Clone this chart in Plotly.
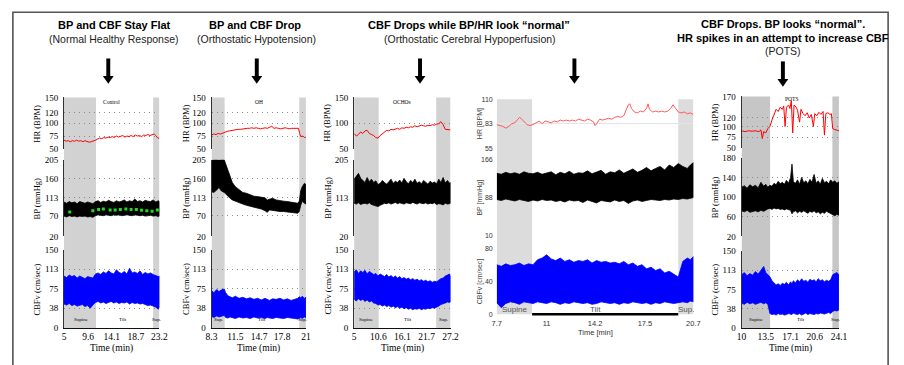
import plotly.graph_objects as go

# ---------------- DATA ----------------
# Panel 1 : Control
p1_t = [5.0,5.5,6.0,6.5,7.0,7.5,8.0,8.5,9.0,9.5,10.0,10.5,11.0,11.5,12.0,12.5,13.0,13.5,14.0,14.5,
        15.0,15.5,16.0,16.5,17.0,17.5,18.0,18.5,19.0,19.5,20.0,20.5,21.0,21.5,22.0,22.5,23.0,23.2]
p1_bp_hi = [103,100,104,101,103,99,104,102,100,103,101,99,104,106,102,105,103,107,104,102,
            106,103,105,108,103,106,104,110,104,106,103,107,105,104,108,103,106,104]
p1_bp_lo = [69,67,70,68,69,67,69,68,69,67,68,66,70,72,71,70,72,71,70,72,
            71,72,70,71,72,71,70,72,71,70,71,69,70,71,69,70,68,69]
p1_cbf_hi = [100,97,102,99,101,96,100,98,95,99,97,96,104,106,103,108,105,110,106,104,
             112,107,105,109,104,115,106,108,105,110,103,107,104,106,103,101,99,100]
p1_cbf_lo = [46,44,47,43,45,42,44,45,41,43,38,44,49,51,48,50,47,49,51,48,
             50,47,49,48,50,46,49,47,48,46,47,45,43,44,42,40,36,40]
p1_hr_t = [5.0,5.4,5.8,6.2,6.6,7.0,7.4,7.8,8.2,8.6,9.0,9.4,9.8,10.2,10.6,11.0,11.4,11.8,12.2,12.6,
           13.0,13.4,13.8,14.2,14.6,15.0,15.4,15.8,16.2,16.6,17.0,17.4,17.8,18.2,18.6,19.0,19.4,19.8,
           20.2,20.6,21.0,21.4,21.8,22.2,22.5,22.8,23.2]
p1_hr = [67,65,66,64,66,65,67,65,66,64,66,65,63,64,65,67,69,71,70,72,
         71,73,72,74,72,75,73,74,76,73,75,74,76,74,77,75,76,74,77,76,78,76,77,79,76,72,70]
p1_dots_t = [6.1,10.5,11.6,12.5,13.8,14.75,15.75,16.8,17.8,18.8,19.8,20.8,21.8,22.8]
p1_dots = [79,82,85,86,84,84,85,86,85,85,83,82,81,84]

# Panel 2 : OH
p2_t = [8.3,8.6,9.0,9.3,9.6,10.0,10.2,10.5,10.8,11.1,11.5,12.0,12.5,13.0,13.5,14.0,14.5,15.0,15.5,15.8,
        16.1,16.5,17.0,17.5,18.0,18.5,19.0,19.5,19.9,20.1,20.3,20.5,20.8,21.0]
p2_bp_hi = [203,205,205,204,205,205,195,180,165,150,140,133,126,124,120,117,116,115,113,108,
            110,112,108,106,105,104,103,102,100,105,130,140,148,145]
p2_bp_lo = [128,126,132,138,130,126,124,118,112,108,104,101,98,95,92,90,88,86,82,78,
            84,83,81,80,80,79,78,77,76,80,95,105,100,98]
p2_cbf_hi = [72,68,74,70,73,75,68,62,60,58,61,57,59,56,58,55,57,54,57,55,
             53,56,55,57,54,56,53,55,57,60,58,61,57,59]
p2_cbf_lo = [22,20,23,21,22,24,20,19,21,20,18,21,19,20,18,21,19,20,18,20,
             19,18,20,19,18,20,19,18,17,19,20,18,21,19]
p2_hr_t = [8.3,8.6,8.9,9.2,9.5,9.8,10.1,10.4,10.7,11.0,11.3,11.6,11.9,12.2,12.5,12.8,13.1,13.4,13.7,14.0,
           14.3,14.6,14.9,15.2,15.5,15.8,16.1,16.4,16.7,17.0,17.3,17.6,17.9,18.2,18.5,18.8,19.1,19.4,
           19.7,20.0,20.15,20.3,20.6,20.8,21.0]
p2_hr = [77,79,78,80,79,81,82,84,85,86,86,87,88,88,89,89,90,90,91,90,
         91,90,89,90,91,90,92,94,90,91,90,89,90,91,90,89,90,90,91,90,80,74,75,72,73]

# Panel 3 : OCHOs
p3_t = [5.0,5.5,6.0,6.5,7.0,7.5,8.0,8.5,9.0,9.5,10.0,10.5,11.0,11.5,12.0,12.5,13.0,13.5,14.0,14.5,
        15.0,15.5,16.0,16.5,17.0,17.5,18.0,18.5,19.0,19.5,20.0,20.5,21.0,21.5,22.0,22.5,23.0,23.5,
        24.0,24.5,25.0,25.5,26.0,26.5,27.0,27.2]
p3_bp_hi = [158,165,172,160,155,150,162,152,158,150,154,145,148,155,150,146,152,158,148,153,
            150,156,149,160,152,147,155,150,158,148,152,147,155,150,146,153,149,151,147,158,
            150,162,149,155,148,150]
p3_bp_lo = [100,98,101,97,99,100,98,101,97,95,93,92,95,98,100,99,101,98,100,102,
            99,101,100,98,101,100,99,102,100,98,101,100,99,101,98,100,99,101,97,99,
            98,96,100,98,99,100]
p3_hr = [80,75,78,83,80,85,86,80,78,76,72,71,76,80,83,86,85,88,87,89,
         90,88,91,90,92,91,93,92,95,93,94,96,95,94,96,95,97,96,98,99,103,97,88,87,86,87]
p3_cbf_hi = [108,112,105,110,107,111,104,109,106,103,105,100,104,101,99,103,98,101,97,100,
             96,99,95,97,94,96,93,95,92,94,91,93,90,92,89,91,88,90,89,92,95,96,100,102,104,100]
p3_cbf_lo = [55,52,56,53,55,51,54,50,52,48,47,44,45,42,44,41,43,40,42,39,
             41,38,40,37,39,36,38,35,37,36,38,35,37,36,38,37,39,38,40,42,45,47,48,50,49,50]

# Panel 4
p4_t = [7.7,8.0,8.3,8.6,8.9,9.2,9.5,9.8,10.1,10.4,10.7,11.0,11.3,11.6,11.9,12.2,12.5,12.8,13.1,13.4,
        13.7,14.0,14.3,14.6,14.9,15.2,15.5,15.8,16.1,16.4,16.7,17.0,17.3,17.6,17.9,18.2,18.5,18.8,
        19.1,19.4,19.7,20.0,20.3,20.5,20.7]
p4_bp_hi = [138,136,140,137,139,136,141,138,137,140,136,139,141,135,140,137,142,136,139,138,
            143,137,140,144,136,141,139,145,138,142,147,140,144,150,143,148,152,145,155,150,
            158,152,148,155,160]
p4_bp_lo = [84,82,85,83,81,84,82,80,83,81,84,82,83,80,82,79,83,81,82,78,
            83,80,77,82,81,79,83,80,82,76,81,83,80,82,84,83,82,84,83,85,84,86,85,87,88]
p4_cbf_hi = [60,58,61,59,60,62,59,61,60,66,68,72,67,65,68,64,66,63,65,64,
             66,62,65,63,64,62,63,61,64,60,62,58,60,55,57,53,55,50,52,48,45,64,68,66,70]
p4_cbf_lo = [14,8,13,15,14,12,15,14,13,15,14,13,15,14,12,14,13,15,14,13,
             14,12,13,15,14,13,14,12,14,13,15,14,13,14,12,14,13,15,14,13,14,15,14,16,15]
p4_hr_t = [7.7,7.9,8.1,8.3,8.5,8.7,8.9,9.1,9.2,9.3,9.5,9.7,9.9,10.1,10.3,10.5,10.7,10.9,11.1,11.3,
           11.5,11.7,11.9,12.1,12.3,12.5,12.7,12.9,13.1,13.3,13.5,13.7,13.9,14.1,14.2,14.3,14.5,14.7,
           14.9,15.1,15.3,15.5,15.7,15.9,16.1,16.3,16.4,16.5,16.6,16.8,17.0,17.2,17.4,17.6,17.7,17.8,
           18.0,18.2,18.4,18.6,18.8,19.0,19.2,19.35,19.5,19.7,19.9,20.1,20.3,20.5,20.7]
p4_hr = [82,81,80,78,80,83,84,88,90,89,85,82,81,82,84,86,83,86,85,84,
         86,85,87,86,87,86,87,86,88,87,86,88,87,85,81,83,88,87,88,89,
         88,90,91,90,92,99,104,105,100,96,95,97,96,100,105,99,96,97,96,97,
         96,97,100,104,100,96,95,96,94,95,93]

# Panel 5 : POTS
p5_t = [10.0,10.4,10.8,11.2,11.6,12.0,12.4,12.8,13.2,13.5,13.8,14.1,14.4,14.7,15.0,15.3,15.6,15.9,16.2,16.5,
        16.8,17.1,17.3,17.5,17.8,18.1,18.4,18.7,19.0,19.3,19.6,19.9,20.2,20.5,20.8,21.1,21.4,21.7,
        22.0,22.3,22.6,22.9,23.2,23.5,23.8,24.1]
p5_bp_hi = [120,123,118,125,121,124,119,130,122,126,120,124,122,128,125,132,127,130,126,134,
            128,140,167,131,128,135,126,140,129,133,127,136,130,146,128,133,126,138,129,132,
            127,135,130,133,128,131]
p5_bp_lo = [72,70,73,69,71,72,70,73,71,74,76,77,75,78,76,77,75,76,74,76,
            75,73,66,70,72,68,71,69,72,70,67,71,69,72,68,70,66,69,67,71,68,66,64,62,65,63]
p5_cbf_hi = [104,108,102,106,103,110,105,112,120,108,104,100,92,88,84,86,83,87,85,89,
             84,90,86,92,88,94,90,96,91,93,89,95,92,94,90,96,92,94,90,93,91,94,104,106,108,104]
p5_cbf_lo = [48,46,50,47,49,46,48,50,47,49,46,28,26,27,25,28,26,27,25,26,
             28,27,26,29,27,26,28,25,27,29,26,28,27,26,28,27,29,28,27,29,30,28,32,34,33,35]
p5_hr_t = [10.0,10.5,11.0,11.5,12.0,12.5,12.8,13.0,13.2,13.5,13.8,14.1,14.4,14.7,15.0,15.3,15.6,15.9,16.1,16.3,
           16.5,16.8,17.0,17.2,17.4,17.6,17.9,18.1,18.4,18.6,18.9,19.2,19.5,19.8,20.1,20.4,20.6,20.9,
           21.2,21.5,21.8,22.0,22.2,22.5,22.8,23.0,23.2,23.5,23.8,24.1]
p5_hr = [90,88,90,89,90,88,92,72,88,85,95,100,115,130,140,135,145,140,148,100,
         145,150,142,160,85,150,145,138,110,140,130,125,132,120,128,100,130,125,133,128,
         135,80,130,132,128,130,95,93,92,90]

# Axis ticks
p1_xticks = [5, 9.6, 14.1, 18.7, 23.2]
p2_xticks = [8.3, 11.5, 14.7, 17.8, 21]
p3_xticks = [5, 10.6, 16.1, 21.7, 27.2]
p4_xticks = [7.7, 11, 14.2, 17.5, 20.7]
p5_xticks = [10, 13.5, 17.1, 20.6, 24.1]
hr_ticks_a = [50, 75, 100, 120, 150]
hr_ticks_b = [50, 100, 150]
hr_ticks_c = [55, 83, 110]
hr_ticks_d = [50, 75, 100, 120, 170]
bp_ticks_a = [20, 70, 113, 160, 205]
bp_ticks_b = [20, 113, 205]
bp_ticks_c = [10, 88, 166]
bp_ticks_d = [20, 60, 100, 140, 180]
cbf_ticks_a = [0, 38, 75, 113, 150]
cbf_ticks_c = [0, 40, 80]

# ---------------- LAYOUT HELPERS ----------------
W, H = 904, 365
def fx(x): return x / W
def fy(y): return 1 - y / H

SERIF = "Liberation Serif, Times New Roman, serif"
SANS = "Liberation Sans, Arial, sans-serif"

panels = [
    dict(t=p1_t, hr_t=p1_hr_t, hr=p1_hr, bp_hi=p1_bp_hi, bp_lo=p1_bp_lo, cbf_hi=p1_cbf_hi, cbf_lo=p1_cbf_lo,
         xr=(5, 23.2), xt=p1_xticks, hrr=(50, 150), hrt=hr_ticks_a, bpr=(20, 205), bpt=bp_ticks_a,
         cbr=(0, 150), cbt=cbf_ticks_a, ph=(11.1, 22.0), xpx=(59, 156),
         ypx=[(95, 148), (159, 238), (252, 332)], modern=False, name="Control", name_y=141,
         labels=[("Supine", 8.3), ("Tilt", 16.3), ("Sup.", 22.6)], ytx=32, gray="#d2d2d2"),
    dict(t=p2_t, hr_t=p2_hr_t, hr=p2_hr, bp_hi=p2_bp_hi, bp_lo=p2_bp_lo, cbf_hi=p2_cbf_hi, cbf_lo=p2_cbf_lo,
         xr=(8.3, 21), xt=p2_xticks, hrr=(50, 150), hrt=hr_ticks_a, bpr=(20, 205), bpt=bp_ticks_a,
         cbr=(0, 150), cbt=cbf_ticks_a, ph=(10.06, 20.1), xpx=(209, 305),
         ypx=[(95, 148), (159, 238), (252, 332)], modern=False, name="OH", name_y=141,
         labels=[("Sup.", 9.2), ("Tilt", 15.1), ("Sup.", 20.55)], ytx=183, gray="#d2d2d2"),
    dict(t=p3_t, hr_t=p3_t, hr=p3_hr, bp_hi=p3_bp_hi, bp_lo=p3_bp_lo, cbf_hi=p3_cbf_hi, cbf_lo=p3_cbf_lo,
         xr=(5, 27.2), xt=p3_xticks, hrr=(50, 150), hrt=hr_ticks_b, bpr=(20, 205), bpt=bp_ticks_b,
         cbr=(0, 150), cbt=cbf_ticks_a, ph=(10.66, 23.9), xpx=(354, 452),
         ypx=[(95, 148), (159, 238), (252, 332)], modern=False, name="OCHOs", name_y=141,
         labels=[("Supine", 7.8), ("Tilt", 17.3), ("Sup.", 25.5)], ytx=327, gray="#d2d2d2"),
    dict(t=p4_t, hr_t=p4_hr_t, hr=p4_hr, bp_hi=p4_bp_hi, bp_lo=p4_bp_lo, cbf_hi=p4_cbf_hi, cbf_lo=p4_cbf_lo,
         xr=(7.7, 20.7), xt=p4_xticks, hrr=(55, 110), hrt=hr_ticks_c, bpr=(10, 166), bpt=bp_ticks_c,
         cbr=(0, 80), cbt=cbf_ticks_c, ph=(10.04, 19.7), xpx=(499, 699),
         ypx=[(97, 148), (159, 237), (250, 318)], modern=True, name=None, name_y=None,
         labels=[("Supine", 8.85), ("Tilt", 14.2), ("Sup.", 20.2)], ytx=482, gray="#dcdcdc"),
    dict(t=p5_t, hr_t=p5_hr_t, hr=p5_hr, bp_hi=p5_bp_hi, bp_lo=p5_bp_lo, cbf_hi=p5_cbf_hi, cbf_lo=p5_cbf_lo,
         xr=(10, 24.1), xt=p5_xticks, hrr=(50, 170), hrt=hr_ticks_d, bpr=(20, 180), bpt=bp_ticks_d,
         cbr=(0, 150), cbt=cbf_ticks_a, ph=(14.13, 23.15), xpx=(748, 847),
         ypx=[(94, 147), (157, 238), (253, 332)], modern=False, name="POTS", name_y=163,
         labels=[("Supine", 12.1), ("Tilt", 18.6), ("Sup.", 23.6)], ytx=721, gray="#c6c6c6"),
]

fig = go.Figure()
layout = {}
shapes = []
annots = []

def axname(prefix, k):
    return prefix if k == 1 else f"{prefix}{k}"

def band(t, hi, lo, color, xa, ya):
    return go.Scatter(x=list(t) + list(t)[::-1], y=list(hi) + list(lo)[::-1], fill="toself",
                      fillcolor=color, mode="lines", line=dict(color=color, width=0.8),
                      xaxis=xa, yaxis=ya, showlegend=False, hoverinfo="skip")

def ann(**kw):
    d = dict(showarrow=False, xanchor="center", yanchor="middle")
    d.update(kw)
    annots.append(d)

for pi, P in enumerate(panels):
    modern = P["modern"]
    tfont = dict(family=SANS if modern else SERIF, size=7 if modern else 9, color="#333" if modern else "#000")
    xfont = dict(family=SANS if modern else SERIF, size=7.5 if modern else 9.5, color="#333" if modern else "#000")
    gridc = "#e4e4e4" if modern else "#8a8a8a"
    rows = [("hr", P["hrr"], P["hrt"]), ("bp", P["bpr"], P["bpt"]), ("cbf", P["cbr"], P["cbt"])]
    ks = []
    for ri, (nm, rng, tv) in enumerate(rows):
        k = pi * 3 + ri + 1
        ks.append(k)
        y0, y1 = P["ypx"][ri]
        span = rng[1] - rng[0]
        layout[axname("xaxis", k)] = dict(
            domain=[fx(P["xpx"][0]), fx(P["xpx"][1])], range=list(P["xr"]), anchor=f"y{k}",
            showgrid=False, zeroline=False, showticklabels=(ri == 2), tickvals=P["xt"],
            ticktext=[str(v) for v in P["xt"]], tickfont=xfont, ticks="",
            showline=(ri == 2 and not modern), linecolor="#111", linewidth=1,
            ticklabelstandoff=3 if modern else 0)
        layout[axname("yaxis", k)] = dict(
            domain=[fy(y1), fy(y0)], range=[rng[0] - span * 0.0005, rng[1] + span * 0.0005],
            anchor=f"x{k}", tickvals=tv, ticktext=[str(v) for v in tv], tickfont=tfont, ticks="",
            showgrid=True, gridcolor=gridc, gridwidth=1, griddash="solid" if modern else "1px,4px",
            zeroline=False, showline=not modern, linecolor="#333", linewidth=1, ticklabelstandoff=3)
    kh, kb, kc = ks
    # shaded supine / sup regions spanning all three rows
    top_px, bot_px = P["ypx"][0][0], P["ypx"][2][1]
    for (a, b) in [(P["xr"][0], P["ph"][0]), (P["ph"][1], P["xr"][1])]:
        shapes.append(dict(type="rect", xref=f"x{kc}", yref="paper", x0=a, x1=b,
                           y0=fy(bot_px), y1=fy(top_px), fillcolor=P["gray"], line=dict(width=0),
                           layer="below"))
    hr_col = "#ff5a5a" if modern else "#ff0000"
    fig.add_trace(go.Scatter(x=P["hr_t"], y=P["hr"], mode="lines", line=dict(color=hr_col, width=1),
                             xaxis=f"x{kh}", yaxis=f"y{kh}", showlegend=False, hoverinfo="skip"))
    fig.add_trace(band(P["t"], P["bp_hi"], P["bp_lo"], "#000000", f"x{kb}", f"y{kb}"))
    fig.add_trace(band(P["t"], P["cbf_hi"], P["cbf_lo"], "#0000ff", f"x{kc}", f"y{kc}"))
    if pi == 0:
        fig.add_trace(go.Scatter(x=p1_dots_t, y=p1_dots, mode="markers",
                                 marker=dict(color="#1fdc1f", size=3, symbol="square"),
                                 xaxis=f"x{kb}", yaxis=f"y{kb}", showlegend=False, hoverinfo="skip"))
    # condition name
    if P["name"]:
        ann(x=(P["xr"][0] + P["xr"][1]) / 2 if pi != 4 else 17.2, y=P["name_y"],
            xref=f"x{kh}", yref=f"y{kh}", text=P["name"],
            font=dict(family=SERIF, size=5.5, color="#000"))
    # phase labels
    for txt, tx in P["labels"]:
        if modern:
            ann(x=tx, y=6, xref=f"x{kc}", yref=f"y{kc}", text=txt,
                font=dict(family=SANS, size=8, color="#555"))
        else:
            ann(x=tx, y=17, xref=f"x{kc}", yref=f"y{kc}", text=txt,
                font=dict(family=SERIF, size=5, color="#000"))
    if modern:
        shapes.append(dict(type="line", xref=f"x{kc}", yref="paper", x0=P["ph"][0], x1=P["ph"][1],
                           y0=fy(P["ypx"][2][1]), y1=fy(P["ypx"][2][1]),
                           line=dict(color="#000", width=2.5)))
    # axis titles
    names = (["HR [BPM]", "BP [mmHg]", "CBFv [cm/sec]"] if modern
             else ["HR (BPM)", "BP (mmHg)", "CBFv (cm/sec)"])
    for ri, nm in enumerate(names):
        y0, y1 = P["ypx"][ri]
        ann(x=fx(P["ytx"]), y=fy((y0 + y1) / 2), xref="paper", yref="paper", text=nm, textangle=-90,
            font=dict(family=SANS if modern else SERIF, size=7 if modern else 8.5,
                      color="#444" if modern else "#000"))
    ann(x=fx((P["xpx"][0] + P["xpx"][1]) / 2), y=fy(337 if modern else 353),
        xref="paper", yref="paper", text="Time [min]" if modern else "Time (min)",
        font=dict(family=SANS if modern else SERIF, size=7.5 if modern else 9.5,
                  color="#333" if modern else "#000"))

# headings
TFONT_B = dict(family="Liberation Sans, Arial, sans-serif", size=11, color="#000")
TFONT = dict(family="Liberation Sans, Arial, sans-serif", size=10.5, color="#222")
heads = [
    (110, 21, "<b>BP and CBF Stay Flat</b>", TFONT_B), (110, 35, "(Normal Healthy Response)", TFONT),
    (253, 21, "<b>BP and CBF Drop</b>", TFONT_B), (255, 35, "(Orthostatic Hypotension)", TFONT),
    (471, 21, "<b>CBF Drops while BP/HR look “normal”</b>", TFONT_B),
    (472, 35, "(Orthostatic Cerebral Hypoperfusion)", TFONT),
    (790, 20, "<b>CBF Drops. BP looks “normal”.</b>", TFONT_B),
    (790, 34, "<b>HR spikes in an attempt to increase CBF</b>", TFONT_B),
    (790, 47, "(POTS)", TFONT),
]
for x, y, txt, f in heads:
    ann(x=fx(x), y=fy(y), xref="paper", yref="paper", text=txt, font=f)

# arrows
for ax_, y0 in [(104, 55), (255, 55), (421, 55), (578, 55), (790, 58)]:
    shapes.append(dict(type="rect", xref="paper", yref="paper", x0=fx(ax_ - 2), x1=fx(ax_ + 2),
                       y0=fy(y0 + 19), y1=fy(y0), fillcolor="#000", line=dict(width=0)))
    shapes.append(dict(type="path", xref="paper", yref="paper",
                       path=f"M {fx(ax_-5.5)} {fy(y0+18)} L {fx(ax_+5.5)} {fy(y0+18)} L {fx(ax_)} {fy(y0+26)} Z",
                       fillcolor="#000", line=dict(width=0)))

# outer frame
shapes.append(dict(type="rect", xref="paper", yref="paper", x0=fx(7), x1=fx(897), y0=fy(372), y1=fy(7.5),
                   line=dict(color="#555", width=1.6), fillcolor="rgba(0,0,0,0)"))

layout.update(dict(width=W, height=H, autosize=False, margin=dict(l=0, r=0, t=0, b=0),
                   paper_bgcolor="#ffffff", plot_bgcolor="rgba(0,0,0,0)", showlegend=False,
                   shapes=shapes, annotations=annots))
fig.update_layout(**layout)
fig.write_html("out.html")
